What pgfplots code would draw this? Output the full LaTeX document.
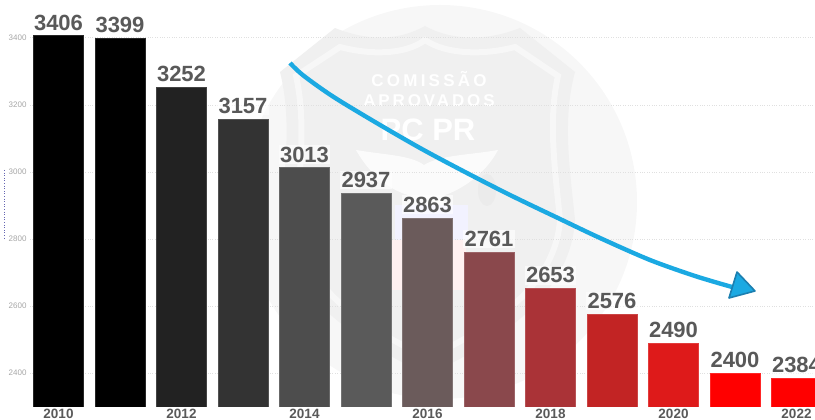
\documentclass[border=0pt]{standalone}
\usepackage{fontspec}
\setmainfont{Liberation Sans}
\usepackage{pgfplots}
\pgfplotsset{compat=1.18}
\definecolor{lab}{HTML}{595959}
\definecolor{tick}{HTML}{A6A6A6}
\definecolor{arrowb}{HTML}{1BA9E2}
\definecolor{arrowd}{HTML}{1C7FB0}
\definecolor{c2}{HTML}{222222}
\definecolor{c3}{HTML}{333333}
\definecolor{c4}{HTML}{4D4D4D}
\definecolor{c5}{HTML}{5A5A5A}
\definecolor{c6}{HTML}{6B5B5B}
\definecolor{c7}{HTML}{8A484C}
\definecolor{c8}{HTML}{AA3337}
\definecolor{c9}{HTML}{C22424}
\definecolor{c10}{HTML}{DE1A1A}
\definecolor{c11}{HTML}{FF0000}
\newcommand{\bb}[3]{\addplot[ybar,bar shift=0pt,bar width=50pt,fill=#3,draw=#3!85!white,line width=0.4pt,
 nodes near coords={#2},nodes near coords style={font=\bfseries\fontsize{22}{22}\selectfont,text=lab,fill=white,fill opacity=0.6,text opacity=1,inner sep=1.5pt,anchor=south,yshift=3.5pt}]
 coordinates {(#1,#2)};}
\begin{document}
\begin{tikzpicture}[x=1pt,y=1pt]
\path[use as bounding box] (0,-13) rectangle (815,407);
\clip (0,-13) rectangle (815,407);
\begin{scope}[shift={(0,407)},y=-1pt]
\fill[black!3] (440,202) circle (197);
\fill[black!6] (280,72) -- (335,28) .. controls (370,42) and (400,40) .. (425,26) .. controls (450,40) and (485,42) .. (520,28) -- (575,72)
  .. controls (562,120) and (570,170) .. (575,220) .. controls (570,300) and (490,345) .. (428,375) .. controls (365,345) and (285,300) .. (280,220) .. controls (285,170) and (292,120) .. (280,72) -- cycle;
\draw[black!3,line width=6pt] (296,76) -- (340,47) .. controls (370,55) and (405,55) .. (425,40) .. controls (447,55) and (485,55) .. (515,47) -- (558,76)
  .. controls (548,120) and (555,170) .. (560,220) .. controls (555,290) and (485,330) .. (428,358) .. controls (370,330) and (300,290) .. (296,220) .. controls (300,170) and (306,120) .. (296,76) -- cycle;
\fill[white,opacity=0.75] (356,150) .. controls (385,155) and (410,155) .. (424,165) .. controls (440,155) and (470,155) .. (498,150) .. controls (485,175) and (460,190) .. (445,195) -- (440,225) -- (412,225) -- (408,195) .. controls (390,190) and (370,175) .. (356,150) -- cycle;
\fill[blue!5] (395,205) rectangle (468,240);
\fill[red!6] (392,240) rectangle (466,290);
\fill[black!8] (487,190) ellipse (9 and 16);
\node[text=white,font=\bfseries\fontsize{17}{17}\selectfont\addfontfeature{LetterSpace=19}] at (429,79) {COMISSÃO};
\node[text=white,font=\bfseries\fontsize{17}{17}\selectfont\addfontfeature{LetterSpace=17}] at (429,101) {APROVADOS};
\node[text=white,font=\bfseries\fontsize{31}{31}\selectfont] at (428,130) {PC PR};
\draw[dotted,line width=0.6pt,blue!50!black!60] (4.5,170) -- (4.5,238);
\end{scope}
\begin{axis}[
 at={(30pt,0)},anchor=south west,scale only axis,
 width=785pt,height=407pt,
 xmin=-0.4634,xmax=12.3008,ymin=2298.8,ymax=3512.4,
 axis line style={draw=none},
 tick style={draw=none},
 xtick={0,2,4,6,8,10,12},
 xticklabels={2010,2012,2014,2016,2018,2020,2022},
 xticklabel style={font=\bfseries\fontsize{13.5}{13.5}\selectfont,text=lab,yshift=1.5pt},
 ytick={2400,2600,2800,3000,3200,3400},
 yticklabel style={font=\fontsize{8}{8}\selectfont,text=tick,/pgf/number format/fixed,/pgf/number format/1000 sep={},/pgf/number format/assume math mode=true},
 ymajorgrids,
 grid style={dotted,line width=0.5pt,black!12},
]
\bb{0}{3406}{black}
\bb{1}{3399}{black}
\bb{2}{3252}{c2}
\bb{3}{3157}{c3}
\bb{4}{3013}{c4}
\bb{5}{2937}{c5}
\bb{6}{2863}{c6}
\bb{7}{2761}{c7}
\bb{8}{2653}{c8}
\bb{9}{2576}{c9}
\bb{10}{2490}{c10}
\bb{11}{2400}{c11}
\bb{12}{2384}{c11}
\end{axis}
\begin{scope}[shift={(0,407)},y=-1pt]
\draw[arrowb,line width=4.4pt] plot[smooth,tension=0.5] coordinates {(290,63) (304,76) (340,101) (420,148) (500,190) (560,219) (600,238) (650,260) (695,276) (732,287)};
\fill[arrowb,draw=arrowd,line width=1.6pt,line join=round] (737,272) -- (755,291) -- (729,298) -- cycle;
\end{scope}
\end{tikzpicture}
\end{document}
